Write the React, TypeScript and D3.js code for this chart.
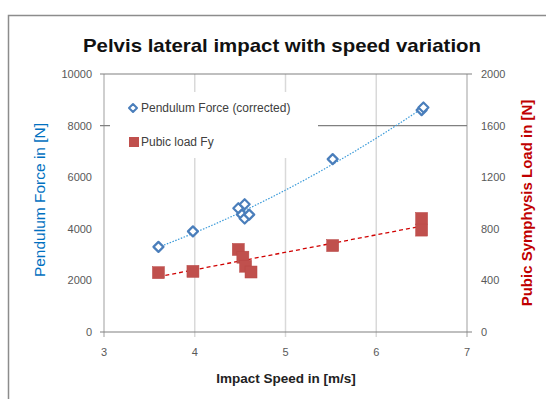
import React from "react";
import * as d3 from "d3";

const speedTicks = [3, 4, 5, 6, 7];
const forceTicks = [0, 2000, 4000, 6000, 8000, 10000];
const loadTicks = [0, 400, 800, 1200, 1600, 2000];

const pendulumSpeed = [3.6, 3.98, 4.48, 4.52, 4.55, 4.55, 4.6, 5.52, 6.5, 6.52];
const pendulumForce = [3300, 3900, 4800, 4550, 4950, 4400, 4550, 6700, 8600, 8700];

const pubicSpeed = [3.6, 3.98, 4.48, 4.53, 4.56, 4.62, 5.52, 6.5, 6.5];
const pubicLoad = [460, 470, 640, 580, 510, 465, 670, 880, 790];

const titleText = "Pelvis lateral impact with speed variation";
const xTitle = "Impact Speed in [m/s]";
const yLeftTitle = "Pendulum Force in [N]";
const yRightTitle = "Pubic  Symphysis Load in [N]";
const legendLabels = ["Pendulum Force (corrected)", "Pubic load Fy"];

function polyFit(xs: number[], ys: number[], deg: number): number[] {
  const n = deg + 1;
  const A: number[][] = Array.from({ length: n }, () => new Array(n + 1).fill(0));
  for (let i = 0; i < xs.length; i++) {
    for (let r = 0; r < n; r++) {
      for (let c = 0; c < n; c++) A[r][c] += Math.pow(xs[i], r + c);
      A[r][n] += ys[i] * Math.pow(xs[i], r);
    }
  }
  for (let i = 0; i < n; i++) {
    let p = i;
    for (let k = i + 1; k < n; k++) if (Math.abs(A[k][i]) > Math.abs(A[p][i])) p = k;
    [A[i], A[p]] = [A[p], A[i]];
    for (let k = i + 1; k < n; k++) {
      const f = A[k][i] / A[i][i];
      for (let j = i; j <= n; j++) A[k][j] -= f * A[i][j];
    }
  }
  const coef = new Array(n).fill(0);
  for (let i = n - 1; i >= 0; i--) {
    let s = A[i][n];
    for (let j = i + 1; j < n; j++) s -= A[i][j] * coef[j];
    coef[i] = s / A[i][i];
  }
  return coef;
}

export default function App() {
  const W = 546, H = 399;
  const left = 104, right = 467, top = 74, bottom = 332;
  const x = d3.scaleLinear().domain([3, 7]).range([left, right]);
  const yL = d3.scaleLinear().domain([0, 10000]).range([bottom, top]);
  const yR = d3.scaleLinear().domain([0, 2000]).range([bottom, top]);

  const bCoef = polyFit(pendulumSpeed, pendulumForce, 2);
  const rCoef = polyFit(pubicSpeed, pubicLoad, 1);
  const evalP = (c: number[], v: number) => c.reduce((s, a, i) => s + a * Math.pow(v, i), 0);
  const xMin = d3.min(pendulumSpeed)!, xMax = d3.max(pendulumSpeed)!;
  const samples = d3.range(0, 41).map((i) => xMin + ((xMax - xMin) * i) / 40);
  const blueLine = d3.line<number>().x((v) => x(v)).y((v) => yL(evalP(bCoef, v)))(samples)!;
  const rMin = d3.min(pubicSpeed)!, rMax = d3.max(pubicSpeed)!;
  const redLine = d3.line<number>().x((v) => x(v)).y((v) => yR(evalP(rCoef, v)))([rMin, rMax])!;

  const font = "Liberation Sans, Arial, sans-serif";
  const tickColor = "#595959";
  const legendBox = { x0: 110, x1: 318, y0: 92, y1: 158 };

  const diamond = (cx: number, cy: number, r: number) =>
    `M${cx},${cy - r}L${cx + r},${cy}L${cx},${cy + r}L${cx - r},${cy}Z`;

  return (
    <svg width={W} height={H} style={{ position: "absolute", left: 0, top: 0 }}>
      <rect x={0} y={0} width={W} height={H} fill="#fff" />
      <rect x={8.5} y={15.5} width={700} height={500} fill="#fff" stroke="#8c8c8c" strokeWidth={1.5} />
      <text x={282} y={52} textAnchor="middle" fontFamily={font} fontWeight="bold" fontSize={19}
        textLength={398} lengthAdjust="spacingAndGlyphs" fill="#111">{titleText}</text>

      {/* vertical gridlines */}
      {speedTicks.slice(1, 4).map((t) => (
        <line key={t} x1={x(t)} x2={x(t)} y1={top} y2={bottom + 5} stroke="#d9d9d9" strokeWidth={1.5} />
      ))}
      {/* axes */}
      <line x1={left} x2={left} y1={top} y2={bottom + 5} stroke="#bfbfbf" strokeWidth={1.5} />
      <line x1={right} x2={right} y1={top} y2={bottom + 5} stroke="#bfbfbf" strokeWidth={1.5} />
      <line x1={left - 4} x2={right + 5} y1={yL(10000)} y2={yL(10000)} stroke="#808080" strokeWidth={1.2} />
      <line x1={left - 4} x2={right} y1={yL(8000)} y2={yL(8000)} stroke="#808080" strokeWidth={1.2} />
      <line x1={left - 4} x2={right + 5} y1={bottom} y2={bottom} stroke="#808080" strokeWidth={1.2} />

      {/* legend background */}
      <rect x={legendBox.x0} y={legendBox.y0} width={legendBox.x1 - legendBox.x0} height={legendBox.y1 - legendBox.y0} fill="#fff" />

      {/* tick labels */}
      {forceTicks.map((t) => (
        <text key={t} x={92} y={yL(t) + 4} textAnchor="end" fontFamily={font} fontSize={11} fill={tickColor}>{t}</text>
      ))}
      {loadTicks.map((t) => (
        <text key={t} x={481} y={yR(t) + 4} textAnchor="start" fontFamily={font} fontSize={11} fill={tickColor}>{t}</text>
      ))}
      {speedTicks.map((t) => (
        <text key={t} x={x(t)} y={356} textAnchor="middle" fontFamily={font} fontSize={11} fill={tickColor}>{t}</text>
      ))}

      {/* axis titles */}
      <text x={286} y={383} textAnchor="middle" fontFamily={font} fontWeight="bold" fontSize={13.5} fill="#222">{xTitle}</text>
      <text transform={`translate(45,200) rotate(-90)`} textAnchor="middle" fontFamily={font} fontSize={15.5} fill="#0070C0">{yLeftTitle}</text>
      <text transform={`translate(532,203) rotate(-90)`} textAnchor="middle" fontFamily={font} fontWeight="bold" fontSize={15} fill="#C00000">{yRightTitle}</text>

      {/* trend lines */}
      <path d={blueLine} fill="none" stroke="#3a9ad9" strokeWidth={1.2} strokeDasharray="1.5,1.5" />
      <path d={redLine} fill="none" stroke="#d00000" strokeWidth={1.3} strokeDasharray="4,3" />

      {/* pubic squares */}
      {pubicSpeed.map((s, i) => (
        <rect key={i} x={x(s) - 6} y={yR(pubicLoad[i]) - 6} width={12} height={12} fill="#C0504D" stroke="#b84744" strokeWidth={0.5} />
      ))}
      {/* pendulum diamonds */}
      {pendulumSpeed.map((s, i) => (
        <path key={i} d={diamond(x(s), yL(pendulumForce[i]), 5)} fill="#fff" stroke="#4A7EBB" strokeWidth={2.2} strokeLinejoin="round" />
      ))}

      {/* legend */}
      <path d={diamond(133, 108, 4)} fill="#fff" stroke="#4A7EBB" strokeWidth={2} strokeLinejoin="round" />
      <text x={141} y={112} fontFamily={font} fontSize={12} fill="#404040">{legendLabels[0]}</text>
      <rect x={129} y={137} width={10} height={10} fill="#C0504D" />
      <text x={141} y={146} fontFamily={font} fontSize={12} fill="#404040">{legendLabels[1]}</text>
    </svg>
  );
}
